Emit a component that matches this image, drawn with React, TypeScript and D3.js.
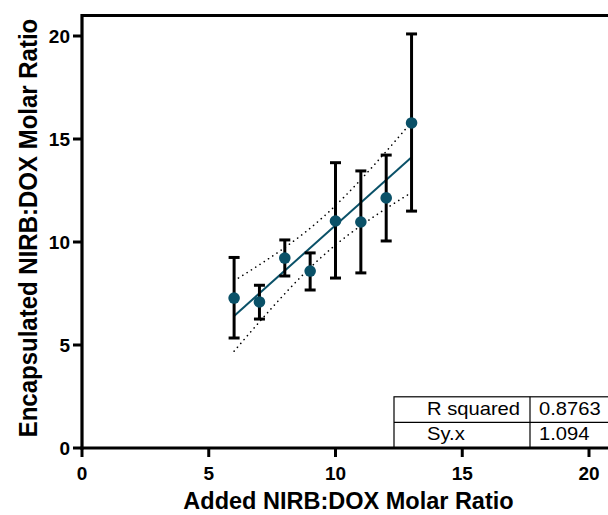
import React from "react";
import * as d3 from "d3";

const xValues = [6, 7, 8, 9, 10, 11, 12, 13];
const yMeans = [7.28, 7.09, 9.22, 8.59, 11.02, 10.97, 12.14, 15.78];
const yUpper = [9.25, 7.9, 10.1, 9.47, 13.85, 13.45, 14.22, 20.1];
const yLower = [5.34, 6.26, 8.35, 7.67, 8.25, 8.5, 10.05, 11.5];
const xTicks = [0, 5, 10, 15, 20];
const yTicks = [0, 5, 10, 15, 20];
const tableRows = [
  ["R squared", "0.8763"],
  ["Sy.x", "1.094"],
];
const tCrit = 2.447; // t(0.975, df=6)

const W = 608;
const H = 515;
const FONT = "'Liberation Sans', Arial, Helvetica, sans-serif";
const TEAL = "#0a5168";

export default function App() {
  const x = d3.scaleLinear().domain([0, 21]).range([82, 82 + 21 * 25.35]);
  const y = d3.scaleLinear().domain([0, 21]).range([448, 448 - 21 * 20.6]);

  // linear regression computed from the data
  const n = xValues.length;
  const mx = d3.mean(xValues)!;
  const my = d3.mean(yMeans)!;
  const sxx = d3.sum(xValues, (v) => (v - mx) ** 2);
  const sxy = d3.sum(xValues.map((v, i) => (v - mx) * (yMeans[i] - my)));
  const slope = sxy / sxx;
  const intercept = my - slope * mx;
  const pred = (v: number) => intercept + slope * v;
  const ssr = d3.sum(xValues.map((v, i) => (yMeans[i] - pred(v)) ** 2));
  const syx = Math.sqrt(ssr / (n - 2));
  const half = (v: number) => tCrit * syx * Math.sqrt(1 / n + (v - mx) ** 2 / sxx);

  const x0 = d3.min(xValues)!;
  const x1 = d3.max(xValues)!;
  const grid = d3.range(0, 41).map((i) => x0 + ((x1 - x0) * i) / 40);
  const line = d3
    .line<number>()
    .x((v) => x(v))
    .y((v) => y(pred(v)));
  const upper = d3
    .line<number>()
    .x((v) => x(v))
    .y((v) => y(pred(v) + half(v)));
  const lower = d3
    .line<number>()
    .x((v) => x(v))
    .y((v) => y(pred(v) - half(v)));

  const axisY = y(0);
  const axisX = x(0);
  const topY = y(21);

  // table geometry
  const tLeft = 394;
  const tDiv = 530;
  const tRight = 640;
  const rowH = 25.6;
  const tTop = axisY - rowH * tableRows.length;

  return (
    <svg width={W} height={H} style={{ position: "absolute", left: 0, top: 0, background: "#fff" }}>
      <rect x={0} y={0} width={W} height={H} fill="#fff" />
      {/* confidence band */}
      <path d={upper(grid)!} fill="none" stroke="#000" strokeWidth={1.6} strokeDasharray="0.1 5" strokeLinecap="round" />
      <path d={lower(grid)!} fill="none" stroke="#000" strokeWidth={1.6} strokeDasharray="0.1 5" strokeLinecap="round" />
      {/* regression line */}
      <path d={line([x0, x1])!} fill="none" stroke={TEAL} strokeWidth={2} />
      {/* error bars */}
      {xValues.map((v, i) => (
        <g key={"e" + i} stroke="#000" strokeWidth={3}>
          <line x1={x(v)} x2={x(v)} y1={y(yUpper[i])} y2={y(yLower[i])} />
          <line x1={x(v) - 5.5} x2={x(v) + 5.5} y1={y(yUpper[i])} y2={y(yUpper[i])} />
          <line x1={x(v) - 5.5} x2={x(v) + 5.5} y1={y(yLower[i])} y2={y(yLower[i])} />
        </g>
      ))}
      {/* points */}
      {xValues.map((v, i) => (
        <circle key={"p" + i} cx={x(v)} cy={y(yMeans[i])} r={5.8} fill={TEAL} />
      ))}
      {/* table */}
      <g fontFamily={FONT} fontSize={17.7} fill="#000">
        <rect x={tLeft} y={tTop} width={tRight - tLeft} height={rowH * tableRows.length} fill="#fff" stroke="#000" strokeWidth={1.2} />
        <line x1={tDiv} x2={tDiv} y1={tTop} y2={axisY} stroke="#000" strokeWidth={1.2} />
        {tableRows.map((r, i) => (
          <g key={"t" + i}>
            {i > 0 && <line x1={tLeft} x2={tRight} y1={tTop + rowH * i} y2={tTop + rowH * i} stroke="#000" strokeWidth={1.2} />}
            <text transform={`translate(427,${tTop + rowH * i + 17.7}) scale(1.14,1)`}>{r[0]}</text>
            <text transform={`translate(539,${tTop + rowH * i + 17.7}) scale(1.14,1)`}>{r[1]}</text>
          </g>
        ))}
      </g>
      {/* frame & axes */}
      <line x1={axisX} x2={W + 10} y1={topY} y2={topY} stroke="#000" strokeWidth={3} />
      <line x1={axisX} x2={axisX} y1={topY - 1.5} y2={axisY + 1.5} stroke="#000" strokeWidth={3.2} />
      <line x1={axisX - 1.5} x2={W + 10} y1={axisY} y2={axisY} stroke="#000" strokeWidth={3.2} />
      <g fontFamily={FONT} fontWeight="bold" fontSize={19} fill="#000">
        {yTicks.map((t) => (
          <g key={"yt" + t}>
            <line x1={axisX - 9} x2={axisX} y1={y(t)} y2={y(t)} stroke="#000" strokeWidth={3} />
            <text x={axisX - 12} y={y(t) + 6.7} textAnchor="end">{t}</text>
          </g>
        ))}
        {xTicks.map((t) => (
          <g key={"xt" + t}>
            <line x1={x(t)} x2={x(t)} y1={axisY} y2={axisY + 9} stroke="#000" strokeWidth={3} />
            <text x={x(t)} y={axisY + 31.5} textAnchor="middle">{t}</text>
          </g>
        ))}
      </g>
      <text x={348.5} y={509} textAnchor="middle" fontFamily={FONT} fontWeight="bold" fontSize={23.5} fill="#000">
        Added NIRB:DOX Molar Ratio
      </text>
      <text
        transform={`translate(37,${228}) rotate(-90) scale(1,1.1)`}
        textAnchor="middle"
        fontFamily={FONT}
        fontWeight="bold"
        fontSize={24}
        fill="#000"
      >
        Encapsulated NIRB:DOX Molar Ratio
      </text>
    </svg>
  );
}
